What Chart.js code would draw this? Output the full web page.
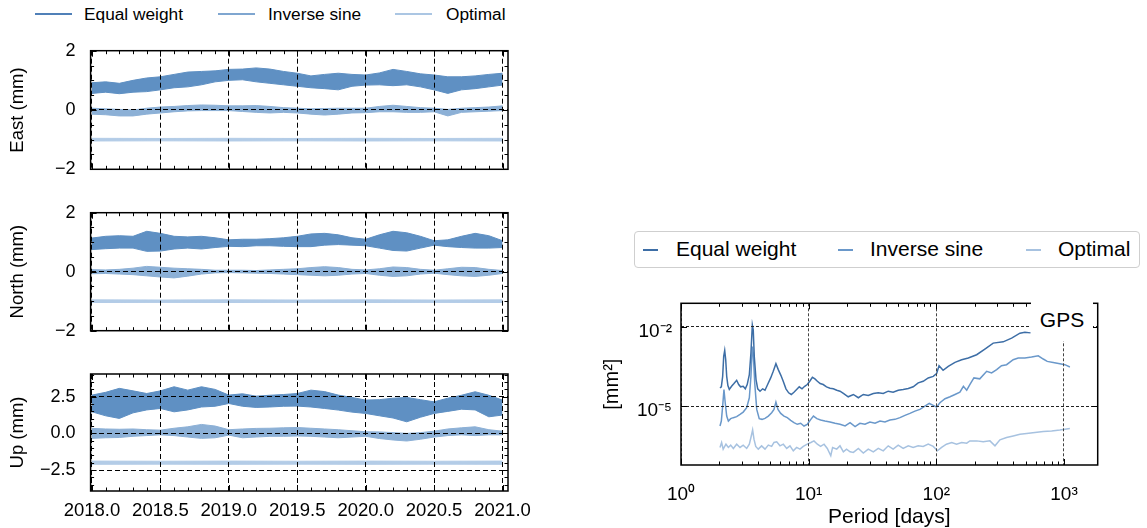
<!DOCTYPE html>
<html><head><meta charset="utf-8">
<script src="https://cdn.jsdelivr.net/npm/chart.js@4.4.1/dist/chart.umd.min.js"></script>
<style>
html,body{margin:0;padding:0;background:#fff;width:1147px;height:528px;overflow:hidden;font-family:"Liberation Sans",Arial,sans-serif;color:#000;}
canvas{position:absolute;}
.ln{position:absolute;height:2px;}
.tx{position:absolute;white-space:nowrap;line-height:20px;}
#leg2{position:absolute;left:634px;top:231px;width:504px;height:35px;border:1px solid #cfcfcf;border-radius:4px;background:#fff;}
#gps{position:absolute;left:1031px;top:299px;width:62px;height:42px;background:#fff;z-index:5;font-size:21px;text-align:center;line-height:42px;}
</style></head><body>

<div class="ln" style="left:35px;top:13px;width:37px;background:#5080b8"></div>
<div class="tx" style="left:84px;top:4px;font-size:17.3px">Equal weight</div>
<div class="ln" style="left:218px;top:13px;width:37px;background:#7fa6d0"></div>
<div class="tx" style="left:268px;top:4px;font-size:17.3px">Inverse sine</div>
<div class="ln" style="left:395px;top:13px;width:37px;background:#abc6e3"></div>
<div class="tx" style="left:446px;top:4px;font-size:17.3px">Optimal</div>

<div id="leg2">
  <div class="ln" style="left:8px;top:17px;width:15px;height:1.5px;background:#3d6ea6"></div>
  <div class="tx" style="left:41px;top:7px;font-size:21px">Equal weight</div>
  <div class="ln" style="left:203px;top:17px;width:15px;height:1.5px;background:#6a98ca"></div>
  <div class="tx" style="left:235px;top:7px;font-size:21px">Inverse sine</div>
  <div class="ln" style="left:391px;top:17px;width:15px;height:1.5px;background:#a7c2e0"></div>
  <div class="tx" style="left:423px;top:7px;font-size:21px">Optimal</div>
</div>
<div id="gps">GPS</div>

<canvas id="cE" width="560" height="160" style="left:0;top:30px;width:560px;height:160px"></canvas>
<canvas id="cN" width="560" height="160" style="left:0;top:192px;width:560px;height:160px"></canvas>
<canvas id="cU" width="560" height="174" style="left:0;top:354px;width:560px;height:174px"></canvas>
<canvas id="cP" width="547" height="248" style="left:600px;top:280px;width:547px;height:248px"></canvas>

<script>
// ---------------- data: time series envelopes (upper / lower edge of each noisy band) ----------------
const tEnv = [2018.0,2018.1,2018.2,2018.3,2018.4,2018.5,2018.6,2018.7,2018.8,2018.9,2019.0,2019.1,2019.2,2019.3,2019.4,2019.5,2019.6,2019.7,2019.8,2019.9,2020.0,2020.1,2020.2,2020.3,2020.4,2020.5,2020.6,2020.7,2020.8,2020.9,2021.0];
const tOpt = [2018.0,2018.5,2019.0,2019.5,2020.0,2020.5,2021.0];

const eastEqualHi = [0.92,0.95,0.90,1.00,1.08,1.12,1.20,1.28,1.30,1.32,1.37,1.38,1.42,1.38,1.30,1.24,1.15,1.20,1.24,1.20,1.18,1.25,1.37,1.30,1.22,1.18,1.12,1.12,1.15,1.20,1.24];
const eastEqualLo = [0.56,0.60,0.55,0.60,0.62,0.68,0.75,0.78,0.85,0.95,1.00,1.02,0.95,0.90,0.85,0.80,0.75,0.72,0.68,0.80,0.84,0.85,0.82,0.85,0.78,0.68,0.56,0.68,0.72,0.78,0.84];
const eastInvHi = [0.06,0.04,0.02,0.00,0.06,0.10,0.12,0.15,0.17,0.16,0.14,0.14,0.15,0.12,0.08,0.06,0.04,0.05,0.06,0.06,0.06,0.12,0.16,0.12,0.08,0.06,0.02,0.06,0.08,0.10,0.14];
const eastInvLo = [-0.14,-0.16,-0.20,-0.20,-0.14,-0.10,-0.06,-0.03,-0.02,-0.02,-0.02,-0.05,-0.08,-0.10,-0.08,-0.10,-0.14,-0.17,-0.14,-0.10,-0.09,-0.06,-0.06,-0.08,-0.08,-0.06,-0.20,-0.08,-0.06,-0.04,-0.02];
const eastOptHi = [-0.955,-0.96,-0.955,-0.96,-0.955,-0.96,-0.955];
const eastOptLo = [-1.045,-1.04,-1.045,-1.04,-1.045,-1.04,-1.045];

const northEqualHi = [1.14,1.20,1.22,1.20,1.37,1.30,1.20,1.18,1.20,1.15,1.08,1.10,1.10,1.12,1.15,1.20,1.28,1.30,1.25,1.15,1.10,1.25,1.37,1.32,1.20,1.05,1.08,1.20,1.30,1.22,1.05];
const northEqualLo = [0.75,0.78,0.80,0.80,0.69,0.70,0.77,0.80,0.77,0.82,0.86,0.85,0.88,0.88,0.86,0.85,0.85,0.90,0.92,0.90,0.88,0.80,0.72,0.70,0.80,0.90,0.85,0.82,0.80,0.80,0.82];
const northInvHi = [0.07,0.06,0.08,0.12,0.18,0.15,0.12,0.10,0.08,0.05,0.05,0.05,0.04,0.06,0.08,0.10,0.14,0.17,0.14,0.08,0.06,0.10,0.16,0.14,0.08,0.05,0.10,0.15,0.14,0.08,0.04];
const northInvLo = [-0.07,-0.06,-0.08,-0.10,-0.14,-0.18,-0.21,-0.15,-0.08,-0.04,-0.03,-0.04,-0.05,-0.06,-0.08,-0.10,-0.12,-0.14,-0.12,-0.08,-0.06,-0.12,-0.16,-0.14,-0.08,-0.05,-0.10,-0.14,-0.16,-0.12,-0.06];
const northOptHi = [-0.955,-0.96,-0.955,-0.96,-0.955,-0.96,-0.955];
const northOptLo = [-1.045,-1.04,-1.045,-1.04,-1.045,-1.04,-1.045];

const upEqualHi = [2.61,2.80,3.07,2.90,2.72,2.90,3.18,2.95,3.18,3.00,2.61,2.70,2.54,2.60,2.65,2.72,2.95,2.85,2.61,2.45,2.27,2.30,2.40,2.45,2.30,2.15,2.40,2.60,2.84,2.60,2.27];
const upEqualLo = [1.47,1.20,1.02,1.40,1.60,1.70,1.47,1.60,1.80,1.85,2.04,1.85,1.77,1.80,1.85,1.86,1.80,1.70,1.59,1.45,1.36,1.20,1.05,0.79,1.10,1.36,1.50,1.65,1.60,1.13,1.25];
const upInvHi = [0.34,0.30,0.28,0.30,0.25,0.22,0.35,0.45,0.61,0.50,0.25,0.30,0.34,0.35,0.38,0.40,0.35,0.30,0.25,0.18,0.11,0.10,0.05,0.00,0.05,0.15,0.30,0.38,0.45,0.25,0.15];
const upInvLo = [-0.34,-0.30,-0.28,-0.20,-0.15,-0.10,-0.15,-0.25,-0.34,-0.30,-0.12,-0.30,-0.25,-0.20,-0.20,-0.18,-0.20,-0.25,-0.30,-0.25,-0.20,-0.35,-0.45,-0.52,-0.40,-0.25,-0.15,-0.10,-0.15,-0.10,-0.10];
const upOptHi = [-1.89,-1.90,-1.89,-1.90,-1.89,-1.90,-1.89];
const upOptLo = [-2.11,-2.10,-2.11,-2.10,-2.11,-2.10,-2.11];

// ---------------- data: power spectral densities ----------------
const psdEqualPeriod = [2.02,2.07,2.12,2.16,2.20,2.24,2.28,2.33,2.39,2.49,2.60,2.73,2.83,2.93,3.07,3.19,3.30,3.43,3.53,3.62,3.68,3.75,3.87,3.99,4.16,4.36,4.55,4.77,5.04,5.28,5.54,5.78,6.07,6.32,6.64,6.97,7.31,7.67,8.05,8.44,8.87,9.31,9.75,10.2,10.7,11.2,11.7,12.3,13.0,13.8,14.7,15.6,16.6,17.6,18.7,20.4,22.4,24.5,26.8,29.3,32.1,35.1,38.4,42.0,45.9,50.3,55.0,60.3,65.9,72.1,78.9,86.4,94.6,100.5,105,113,124,140,158,178,207,240,279,334,389,452,494,547];
const psdEqualPower = [4.90e-5,5.35e-5,1.33e-4,7.50e-4,1.26e-3,5.64e-4,1.33e-4,5.98e-5,4.24e-5,5.62e-5,7.11e-5,9.44e-5,6.52e-5,5.35e-5,5.62e-5,4.50e-5,6.52e-5,1.55e-4,1.01e-3,1.16e-2,7.52e-3,7.50e-4,1.00e-4,4.50e-5,3.66e-5,4.50e-5,3.98e-5,6.52e-5,1.16e-4,2.06e-4,3.99e-4,2.38e-4,1.42e-4,8.67e-5,4.50e-5,3.18e-5,2.75e-5,3.35e-5,4.24e-5,5.35e-5,4.50e-5,5.62e-5,6.52e-5,8.67e-5,1.22e-4,1.07e-4,8.67e-5,7.11e-5,6.52e-5,5.35e-5,4.73e-5,4.50e-5,3.98e-5,3.66e-5,3.00e-5,2.25e-5,2.75e-5,2.07e-5,2.75e-5,2.52e-5,3.00e-5,3.18e-5,3.00e-5,3.66e-5,3.35e-5,3.98e-5,4.24e-5,4.61e-5,5.35e-5,7.55e-5,8.67e-5,1.16e-4,1.33e-4,1.68e-4,3.36e-4,2.24e-4,3.16e-4,4.47e-4,5.64e-4,6.53e-4,8.69e-4,1.42e-3,2.39e-3,2.67e-3,3.67e-3,5.66e-3,6.17e-3,5.81e-3];

const psdInversePeriod = [2.02,2.07,2.12,2.17,2.22,2.28,2.35,2.45,2.57,2.73,2.90,3.07,3.27,3.43,3.53,3.62,3.68,3.78,3.92,4.10,4.31,4.55,4.83,5.13,5.35,5.54,5.75,6.04,6.41,6.80,7.23,7.67,8.14,8.66,9.19,9.75,10.4,10.9,11.6,12.4,13.4,14.7,16.1,17.6,19.3,21.1,23.1,25.2,27.6,30.2,33.1,36.2,39.6,43.3,47.4,51.9,56.8,62.1,68.0,74.4,81.4,88.0,94.6,100.5,106.7,117,128,140,153,163,173,183,197,219,248,271,297,324,355,400,438,494,557,629,688,739,823,929,1016,1112];
const psdInversePower = [1.78e-6,2.74e-6,1.0e-5,4.24e-5,1.34e-5,4.22e-6,2.74e-6,3.37e-6,3.67e-6,4.01e-6,4.89e-6,5.96e-6,8.71e-6,2.07e-5,1.33e-4,1.78e-3,1.01e-3,7.55e-5,7.53e-6,3.37e-6,3.17e-6,3.46e-6,4.22e-6,5.66e-6,7.53e-6,1.41e-5,7.53e-6,5.33e-6,4.22e-6,3.67e-6,2.91e-6,2.39e-6,2.06e-6,2.25e-6,1.78e-6,2.06e-6,3.17e-6,4.22e-6,3.37e-6,2.99e-6,2.74e-6,2.51e-6,2.25e-6,2.06e-6,1.78e-6,2.39e-6,1.69e-6,2.25e-6,2.06e-6,2.51e-6,2.25e-6,2.74e-6,2.51e-6,2.99e-6,3.17e-6,3.67e-6,4.49e-6,5.33e-6,6.50e-6,7.53e-6,1.0e-5,1.26e-5,1.06e-5,9.18e-6,1.34e-5,1.90e-5,2.25e-5,2.75e-5,3.35e-5,5.62e-5,3.98e-5,6.52e-5,1.16e-4,1.07e-4,2.06e-4,1.79e-4,2.38e-4,3.36e-4,3.66e-4,5.64e-4,6.53e-4,6.53e-4,7.13e-4,7.96e-4,6.0e-4,4.87e-4,4.47e-4,3.99e-4,3.66e-4,3.0e-4];

const psdOptimalPeriod = [2.02,2.08,2.14,2.25,2.35,2.45,2.57,2.73,2.90,3.07,3.27,3.43,3.53,3.64,3.73,3.85,4.03,4.28,4.55,4.83,5.13,5.35,5.62,5.96,6.33,6.73,7.14,7.58,8.05,8.55,9.07,9.75,10.4,11.0,11.7,12.4,13.2,14.0,14.9,15.4,16.6,17.6,18.7,19.8,21.1,22.4,24.5,26.8,29.3,32.1,35.1,38.4,42.0,45.9,50.3,55.0,60.3,65.9,72.1,78.9,86.4,94.6,102,110,120,132,144,158,173,183,207,233,263,288,315,355,400,452,510,592,688,800,929,1112];
const psdOptimalPower = [2.76e-7,4.25e-7,2.38e-7,3.66e-7,2.76e-7,3.37e-7,2.53e-7,3.66e-7,2.76e-7,3.37e-7,2.53e-7,3.66e-7,6.55e-7,1.26e-6,5.65e-7,3.01e-7,2.38e-7,3.17e-7,2.38e-7,3.37e-7,3.01e-7,4.25e-7,4.48e-7,3.17e-7,3.66e-7,2.53e-7,3.17e-7,2.06e-7,2.76e-7,2.38e-7,3.01e-7,3.66e-7,4.25e-7,4.88e-7,3.66e-7,3.01e-7,3.66e-7,2.53e-7,1.34e-7,2.76e-7,2.38e-7,3.17e-7,1.89e-7,2.38e-7,1.89e-7,1.79e-7,2.53e-7,1.69e-7,2.38e-7,1.89e-7,2.53e-7,2.06e-7,3.17e-7,2.38e-7,3.37e-7,2.53e-7,3.17e-7,2.76e-7,3.17e-7,3.01e-7,3.66e-7,3.01e-7,2.06e-7,2.76e-7,3.66e-7,4.25e-7,3.66e-7,4.25e-7,4.0e-7,4.88e-7,4.88e-7,4.48e-7,4.88e-7,3.17e-7,5.32e-7,6.55e-7,7.51e-7,8.69e-7,9.24e-7,1.01e-6,1.10e-6,1.16e-6,1.26e-6,1.42e-6];

// ---------------- ticks ----------------
const yearTicks = [2018.0,2018.5,2019.0,2019.5,2020.0,2020.5,2021.0];
const eastTicks = [-2,0,2];
const northTicks = [-2,0,2];
const upTicks = [-2.5,0,2.5];
const periodTicks = [1,10,100,1000];
const periodLabels = ['10\u2070','10\u00b9','10\u00b2','10\u00b3'];
const powerTicks = [1e-5,1e-2];
const powerLabels = ['10\u207b\u2075','10\u207b\u00b2'];

// minor tick positions (axis decoration)
const yearMinor = []; for (let k = 0; k <= 30; k++) yearMinor.push(2018 + k / 10);
const halfMinorEN = []; for (let v = -2; v <= 2.001; v += 0.5) halfMinorEN.push(v);
const halfMinorUp = []; for (let v = -3.5; v <= 4.001; v += 0.5) halfMinorUp.push(v);
const periodMinor = []; [1,10,100,1000].forEach(d => { for (let m = 2; m <= 9; m++) periodMinor.push(d * m); });

// ---------------- styling ----------------
const FONT = '"Liberation Sans", Arial, Helvetica, sans-serif';
Chart.defaults.font.family = FONT;
Chart.defaults.color = '#000';
const BAND_EQ = '#5f90c3', BAND_IS = '#8cb0d6', BAND_OP = '#b3cce7';
const PSD_EQ = '#3d6ea6', PSD_IS = '#6a98ca', PSD_OP = '#a7c2e0';

const minus = s => s.replace('-', '\u2212');
const noPad = s => { s.paddingTop = 0; s.paddingBottom = 0; s.paddingLeft = 0; s.paddingRight = 0; };

const frameTicks = {
  id: 'frameTicks',
  afterDraw(chart, args, o) {
    const {ctx, chartArea: a, scales} = chart;
    ctx.save();
    ctx.strokeStyle = '#000';
    ctx.lineWidth = 1;
    const X = scales.x, Y = scales.y;
    const xt = (vals, len) => vals.forEach(v => {
      const p = X.getPixelForValue(v);
      if (p < a.left - 0.6 || p > a.right + 0.6) return;
      const q = Math.round(p) + 0.5;
      ctx.beginPath(); ctx.moveTo(q, a.bottom); ctx.lineTo(q, a.bottom - len);
      ctx.moveTo(q, a.top); ctx.lineTo(q, a.top + len); ctx.stroke();
    });
    const yt = (vals, len) => vals.forEach(v => {
      const p = Y.getPixelForValue(v);
      if (p < a.top - 0.6 || p > a.bottom + 0.6) return;
      const q = Math.round(p) + 0.5;
      ctx.beginPath(); ctx.moveTo(a.left, q); ctx.lineTo(a.left + len, q);
      ctx.moveTo(a.right, q); ctx.lineTo(a.right - len, q); ctx.stroke();
    });
    xt(o.xMinor || [], 3.5); xt(o.xMajor || [], 6);
    yt(o.yMinor || [], 3.5); yt(o.yMajor || [], 6);
    ctx.lineWidth = 1.5;
    ctx.strokeRect(a.left, a.top, a.right - a.left, a.bottom - a.top);
    ctx.restore();
  }
};

function band(ts, hi, lo, color) {
  const common = {borderColor: color, backgroundColor: color, borderWidth: 1, pointRadius: 0, tension: 0};
  return [
    Object.assign({data: ts.map((t, i) => ({x: t, y: hi[i]})), fill: '+1'}, common),
    Object.assign({data: ts.map((t, i) => ({x: t, y: lo[i]})), fill: false}, common)
  ];
}

function tsChart(id, c) {
  return new Chart(document.getElementById(id), {
    type: 'line',
    data: {datasets: [
      ...band(tEnv, c.eqHi, c.eqLo, BAND_EQ),
      ...band(tEnv, c.isHi, c.isLo, BAND_IS),
      ...band(tOpt, c.opHi, c.opLo, BAND_OP)
    ]},
    options: {
      responsive: false, animation: false, devicePixelRatio: 1,
      layout: {padding: {top: c.padTop, right: 52, bottom: c.padBottom, left: 0}},
      plugins: {legend: {display: false}, tooltip: {enabled: false},
        frameTicks: {xMajor: yearTicks, xMinor: yearMinor, yMajor: c.ticks, yMinor: c.yMinor}},
      scales: {
        x: {type: 'linear', min: 2017.99, max: 2021.04,
          afterBuildTicks: s => { s.ticks = yearTicks.map(v => ({value: v})); },
          afterFit: s => { s.height = c.showX ? 37 : 0; noPad(s); },
          grid: {color: '#000', lineWidth: 1, drawTicks: false, z: 1},
          border: {display: false, dash: [5, 3]},
          ticks: {display: c.showX, padding: 9, font: {size: 18.5}, color: '#000',
            maxRotation: 0, autoSkip: false, callback: v => Number(v).toFixed(1)}},
        y: {type: 'linear', min: c.min, max: c.max,
          afterBuildTicks: s => { s.ticks = c.ticks.map(v => ({value: v})); },
          afterFit: s => { s.width = 90.6; noPad(s); },
          grid: {color: '#000', lineWidth: 1, drawTicks: false, z: 1},
          border: {display: false, dash: [5, 3]},
          ticks: {padding: 15, font: {size: 18}, color: '#000', callback: c.fmt},
          title: {display: true, text: c.title, font: {size: 18.5}, color: '#000', padding: {top: 7, bottom: 0}}}
      }
    },
    plugins: [frameTicks]
  });
}

tsChart('cE', {eqHi: eastEqualHi, eqLo: eastEqualLo, isHi: eastInvHi, isLo: eastInvLo, opHi: eastOptHi, opLo: eastOptLo,
  min: -2, max: 2, ticks: eastTicks, yMinor: halfMinorEN, title: 'East (mm)', showX: false, padTop: 20.7, padBottom: 20.7,
  fmt: v => minus(String(v))});
tsChart('cN', {eqHi: northEqualHi, eqLo: northEqualLo, isHi: northInvHi, isLo: northInvLo, opHi: northOptHi, opLo: northOptLo,
  min: -2, max: 2, ticks: northTicks, yMinor: halfMinorEN, title: 'North (mm)', showX: false, padTop: 20.7, padBottom: 21.3,
  fmt: v => minus(String(v))});
tsChart('cU', {eqHi: upEqualHi, eqLo: upEqualLo, isHi: upInvHi, isLo: upInvLo, opHi: upOptHi, opLo: upOptLo,
  min: -3.93, max: 4.05, ticks: upTicks, yMinor: halfMinorUp, title: 'Up (mm)', showX: true, padTop: 20, padBottom: 0,
  fmt: v => minus(Number(v).toFixed(1))});

// ---------------- PSD chart ----------------
const line = (xs, ys, color) => ({data: xs.map((x, i) => ({x: x, y: ys[i]})), borderColor: color, backgroundColor: color,
  borderWidth: 1.5, pointRadius: 0, fill: false, tension: 0});

new Chart(document.getElementById('cP'), {
  type: 'line',
  data: {datasets: [
    line(psdEqualPeriod, psdEqualPower, PSD_EQ),
    line(psdInversePeriod, psdInversePower, PSD_IS),
    line(psdOptimalPeriod, psdOptimalPower, PSD_OP)
  ]},
  options: {
    responsive: false, animation: false, devicePixelRatio: 1,
    layout: {padding: {top: 23.3, right: 49.3, bottom: 0, left: 0}},
    plugins: {legend: {display: false}, tooltip: {enabled: false},
      frameTicks: {xMajor: periodTicks, xMinor: periodMinor, yMajor: powerTicks, yMinor: []}},
    scales: {
      x: {type: 'logarithmic', min: 1, max: 1837,
        afterBuildTicks: s => { s.ticks = periodTicks.map(v => ({value: v})); },
        afterFit: s => { s.height = 63; noPad(s); },
        grid: {color: '#444', lineWidth: 1, drawTicks: false, z: 1},
        border: {display: false, dash: [3, 2]},
        ticks: {padding: 18.6, font: {size: 19}, color: '#000', maxRotation: 0, autoSkip: false,
          callback: (v, i) => periodLabels[i]},
        title: {display: true, text: 'Period [days]', font: {size: 21, lineHeight: 1.0}, color: '#000', padding: {top: 0, bottom: 0}}},
      y: {type: 'logarithmic', min: 6.46e-8, max: 0.0759,
        afterBuildTicks: s => { s.ticks = powerTicks.map(v => ({value: v})); },
        afterFit: s => { s.width = 81; noPad(s); },
        grid: {color: '#222', lineWidth: 1, drawTicks: false, z: 1},
        border: {display: false, dash: [3, 2]},
        ticks: {padding: 9, font: {size: 19}, color: '#000', labelOffset: 5, callback: (v, i) => powerLabels[i]},
        title: {display: true, text: '[mm\u00b2]', font: {size: 20}, color: '#000', padding: {top: 0, bottom: 0}}}
    }
  },
  plugins: [frameTicks]
});
</script>
</body></html>
